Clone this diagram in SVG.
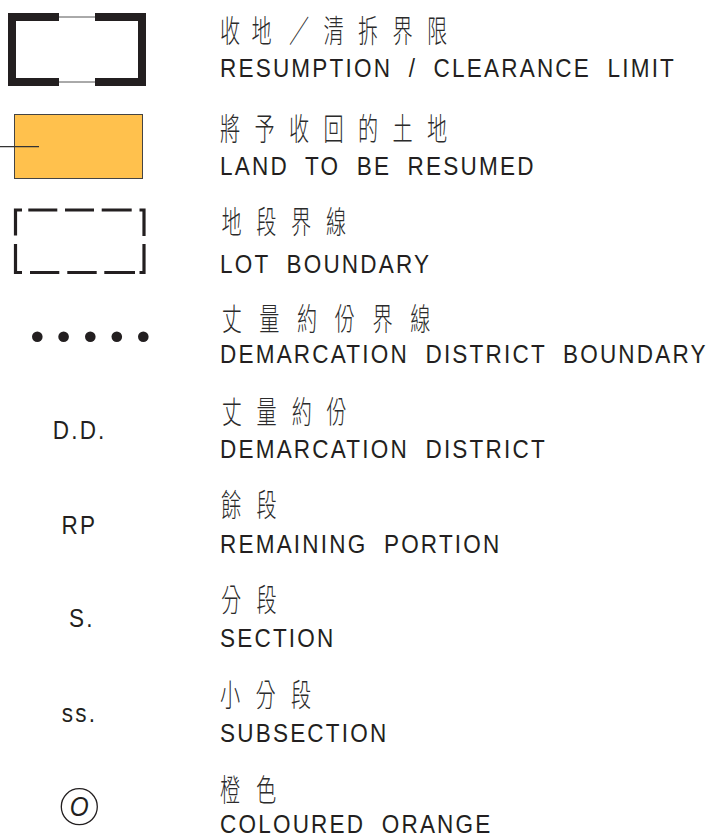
<svg xmlns="http://www.w3.org/2000/svg" width="710" height="835" viewBox="0 0 710 835">
<style>
.en{font-family:"Liberation Sans",Arial,sans-serif;font-size:26.5px;fill:#231f20;letter-spacing:2.6px;word-spacing:9.4px}
.zh{font-family:"Noto Sans CJK TC","Noto Sans CJK SC",sans-serif;font-size:31px;font-weight:300;fill:#2b2b2b;text-anchor:middle}
.thick{fill:none;stroke:#231f20;stroke-width:8;stroke-linecap:butt;stroke-linejoin:miter}
.thin{fill:none;stroke:#555;stroke-width:1}
.lot{fill:none;stroke:#231f20;stroke-width:3.2;stroke-linecap:butt;stroke-linejoin:miter}
.dot{fill:#231f20}
</style>
<rect width="710" height="835" fill="#fff"/>

<g id="resumption-limit">
  <path class="thick" d="M59,17 H12 V82 H59"/>
  <path class="thick" d="M95,17 H142 V82 H95"/>
  <path class="thin" d="M59,17 H95 M59,82 H95"/>
  <text class="zh" transform="translate(220,42) scale(0.65,1)" x="15.4 64 121.5 174.6 227.7 280.8 333.8">收地／清拆界限</text>
  <g transform="matrix(0.85 0 0 1 33 0)"><text class="en" x="220" y="77">RESUMPTION / CLEARANCE LIMIT</text></g>
</g>

<g id="land-to-be-resumed">
  <rect x="14.5" y="114.5" width="128" height="64" fill="#FFC14D" stroke="#444" stroke-width="1"/>
  <path d="M0,146.7 H39" stroke="#333" stroke-width="1.2" fill="none"/>
  <text class="zh" transform="translate(220,139.5) scale(0.65,1)" x="15.4 68.5 121.5 174.6 227.7 280.8 333.8">將予收回的土地</text>
  <g transform="matrix(0.85 0 0 1 33 0)"><text class="en" x="220" y="175">LAND TO BE RESUMED</text></g>
</g>

<g id="lot-boundary">
  <path class="lot" d="M22,210 H15.5 V235.5"/>
  <path class="lot" d="M15.5,244 V272.5 H22"/>
  <path class="lot" d="M28.3,210 H57.3 M65,210 H94 M101.7,210 H131.7"/>
  <path class="lot" d="M139.5,210 H144 V236"/>
  <path class="lot" d="M144,244 V272.5 H139.5"/>
  <path class="lot" d="M30,272.5 H59.3 M67.3,272.5 H96.7 M104.3,272.5 H135"/>
  <text class="zh" transform="translate(220,233) scale(0.65,1)" x="17.7 71.2 124.6 178.5">地段界線</text>
  <g transform="matrix(0.85 0 0 1 33 0)"><text class="en" x="220" y="273.5">LOT BOUNDARY</text></g>
</g>

<g id="dd-boundary">
  <circle class="dot" cx="37.3" cy="336.7" r="5.3"/>
  <circle class="dot" cx="63.6" cy="336.7" r="5.3"/>
  <circle class="dot" cx="90.3" cy="336.7" r="5.3"/>
  <circle class="dot" cx="116.8" cy="336.7" r="5.3"/>
  <circle class="dot" cx="143.3" cy="336.7" r="5.3"/>
  <text class="zh" transform="translate(220,329.5) scale(0.65,1)" x="18 76 133.8 192 250 308">丈量約份界線</text>
  <g transform="matrix(0.85 0 0 1 33 0)"><text class="en" x="220" y="362.7">DEMARCATION DISTRICT BOUNDARY</text></g>
</g>

<g id="dd">
  <g transform="matrix(0.85 0 0 1 0 0)"><text class="en" x="62" y="439">D.D.</text></g>
  <text class="zh" transform="translate(220,423) scale(0.65,1)" x="18 71.8 125.7 179.5">丈量約份</text>
  <g transform="matrix(0.85 0 0 1 33 0)"><text class="en" x="220" y="458.3">DEMARCATION DISTRICT</text></g>
</g>

<g id="rp">
  <g transform="matrix(0.85 0 0 1 0 0)"><text class="en" x="72.4" y="534">RP</text></g>
  <text class="zh" transform="translate(220,516) scale(0.65,1)" x="16.9 71.8">餘段</text>
  <g transform="matrix(0.85 0 0 1 33 0)"><text class="en" x="220" y="552.7">REMAINING PORTION</text></g>
</g>

<g id="section">
  <g transform="matrix(0.85 0 0 1 0 0)"><text class="en" x="81.2" y="627.3">S.</text></g>
  <text class="zh" transform="translate(220,611) scale(0.65,1)" x="16.9 71.8">分段</text>
  <g transform="matrix(0.85 0 0 1 33 0)"><text class="en" x="220" y="646.7">SECTION</text></g>
</g>

<g id="subsection">
  <g transform="matrix(0.85 0 0 1 0 0)"><text class="en" x="72.6" y="722.3">ss.</text></g>
  <text class="zh" transform="translate(220,706) scale(0.65,1)" x="15.4 70 124.6">小分段</text>
  <g transform="matrix(0.85 0 0 1 33 0)"><text class="en" x="220" y="741.7">SUBSECTION</text></g>
</g>

<g id="coloured-orange">
  <circle cx="79.3" cy="806.7" r="18" fill="none" stroke="#231f20" stroke-width="1.3"/>
  <g transform="matrix(0.9 0 0 1 0 0)"><text x="88.1" y="816.3" style="font-family:'Liberation Sans',Arial,sans-serif;font-size:27px;font-style:italic;fill:#231f20;text-anchor:middle">O</text></g>
  <text class="zh" transform="translate(220,801) scale(0.65,1)" x="15.4 70.8">橙色</text>
  <g transform="matrix(0.85 0 0 1 33 0)"><text class="en" x="220" y="832.8">COLOURED ORANGE</text></g>
</g>
</svg>
